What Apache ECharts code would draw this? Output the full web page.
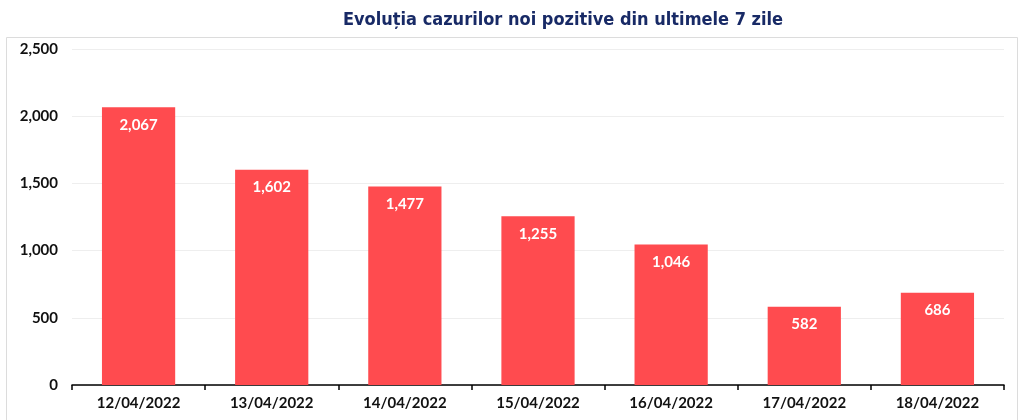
<!DOCTYPE html>
<html>
<head>
<meta charset="utf-8">
<script src="https://cdn.jsdelivr.net/npm/echarts@6/dist/echarts.min.js"></script>
<style>
  html, body { margin: 0; padding: 0; background: #fff; }
  #chart { width: 1024px; height: 420px; }
</style>
</head>
<body>
<div id="chart"></div>
<script>
const TITLE = 'Evoluția cazurilor noi pozitive din ultimele 7 zile';
const categories = ['12/04/2022', '13/04/2022', '14/04/2022', '15/04/2022', '16/04/2022', '17/04/2022', '18/04/2022'];
const newCases = [2067, 1602, 1477, 1255, 1046, 582, 686];
const yTicks = [0, 500, 1000, 1500, 2000, 2500];

const fmt = v => v.toLocaleString('en-US');
const labelFont = 'Lato, "Open Sans", sans-serif';

const chart = echarts.init(document.getElementById('chart'), null, { renderer: 'canvas' });

chart.setOption({
  animation: false,
  backgroundColor: '#fff',
  title: {
    text: TITLE,
    left: 338,
    top: 6,
    textStyle: {
      fontFamily: '"DejaVu Sans Condensed", "DejaVu Sans", sans-serif',
      fontSize: 18,
      fontWeight: 'bold',
      color: '#182a66'
    }
  },
  graphic: [{
    type: 'rect',
    shape: { x: 6.5, y: 37.5, width: 1011, height: 400 },
    style: { fill: 'none', stroke: '#dcdcdc', lineWidth: 1 },
    z: -1
  }],
  grid: { left: 72, right: 20, top: 49, bottom: 35 },
  xAxis: {
    type: 'category',
    data: categories,
    axisLine: { lineStyle: { color: '#000', width: 1.5 } },
    axisTick: { show: true, length: 5, lineStyle: { color: '#000', width: 1.5 } },
    axisLabel: {
      margin: 11,
      fontFamily: labelFont,
      fontSize: 15,
      fontWeight: 'bold',
      color: '#111'
    }
  },
  yAxis: {
    type: 'value',
    min: yTicks[0],
    max: yTicks[yTicks.length - 1],
    interval: 500,
    axisLine: { show: false },
    axisTick: { show: false },
    splitLine: { lineStyle: { color: '#eeeeee', width: 1 } },
    axisLabel: {
      margin: 14,
      fontFamily: labelFont,
      fontSize: 15,
      fontWeight: 'bold',
      color: '#111',
      formatter: fmt
    }
  },
  series: [{
    type: 'bar',
    data: newCases,
    barWidth: '55%',
    itemStyle: { color: '#ff4b4f' },
    label: {
      show: true,
      position: 'insideTop',
      distance: 10,
      fontFamily: labelFont,
      fontSize: 15,
      fontWeight: 'bold',
      color: '#fff',
      formatter: p => fmt(p.value)
    }
  }]
});
</script>
</body>
</html>
